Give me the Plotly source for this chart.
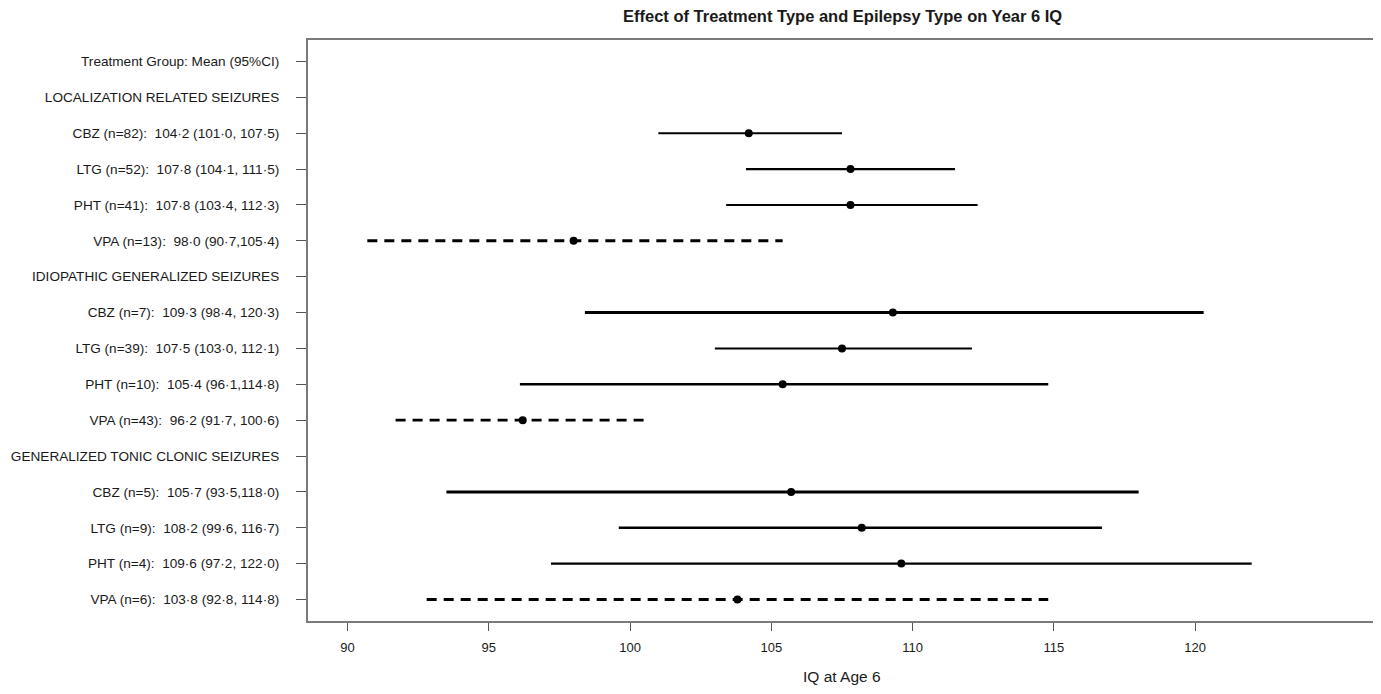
import plotly.graph_objects as go

# ---------------- data ----------------
row_labels = [
    "Treatment Group: Mean (95%CI)",
    "LOCALIZATION RELATED SEIZURES",
    "CBZ (n=82):\u00a0 104·2 (101·0, 107·5)",
    "LTG (n=52):\u00a0 107·8 (104·1, 111·5)",
    "PHT (n=41):\u00a0 107·8 (103·4, 112·3)",
    "VPA (n=13):\u00a0 98·0 (90·7,105·4)",
    "IDIOPATHIC GENERALIZED SEIZURES",
    "CBZ (n=7):\u00a0 109·3 (98·4, 120·3)",
    "LTG (n=39):\u00a0 107·5 (103·0, 112·1)",
    "PHT (n=10):\u00a0 105·4 (96·1,114·8)",
    "VPA (n=43):\u00a0 96·2 (91·7, 100·6)",
    "GENERALIZED TONIC CLONIC SEIZURES",
    "CBZ (n=5):\u00a0 105·7 (93·5,118·0)",
    "LTG (n=9):\u00a0 108·2 (99·6, 116·7)",
    "PHT (n=4):\u00a0 109·6 (97·2, 122·0)",
    "VPA (n=6):\u00a0 103·8 (92·8, 114·8)",
]
# None for header rows
means = [None, None, 104.2, 107.8, 107.8, 98.0, None, 109.3, 107.5, 105.4, 96.2,
         None, 105.7, 108.2, 109.6, 103.8]
lower = [None, None, 101.0, 104.1, 103.4, 90.7, None, 98.4, 103.0, 96.1, 91.7,
         None, 93.5, 99.6, 97.2, 92.8]
upper = [None, None, 107.5, 111.5, 112.3, 105.4, None, 120.3, 112.1, 114.8, 100.6,
         None, 118.0, 116.7, 122.0, 114.8]
treatment = [None, None, "CBZ", "LTG", "PHT", "VPA", None, "CBZ", "LTG", "PHT", "VPA",
             None, "CBZ", "LTG", "PHT", "VPA"]
x_ticks = [90, 95, 100, 105, 110, 115, 120]

# ---------------- styles ----------------
line_widths = [0, 0, 2, 2.4, 2, 3, 0, 3, 2, 2.6, 2.6, 0, 3, 2.6, 2.4, 3]

n = len(row_labels)
y_pos = [n - i for i in range(n)]

fig = go.Figure()
for i in range(n):
    if means[i] is None:
        continue
    dashed = treatment[i] == "VPA"
    fig.add_trace(go.Scatter(
        x=[lower[i], upper[i]], y=[y_pos[i], y_pos[i]],
        mode="lines",
        line=dict(color="black", width=line_widths[i],
                  dash="10px,7px" if dashed else "solid"),
        hoverinfo="skip", showlegend=False))
    fig.add_trace(go.Scatter(
        x=[means[i]], y=[y_pos[i]], mode="markers",
        marker=dict(color="black", size=8),
        showlegend=False))

font_family = "Liberation Sans, Arial, sans-serif"

fig.update_layout(
    width=1373, height=678,
    margin=dict(l=300, r=5, t=32, b=65),
    plot_bgcolor="white", paper_bgcolor="white",
    font=dict(family=font_family, size=13, color="#1a1a1a"),
    showlegend=False,
)
fig.update_xaxes(
    range=[88.6, 126.4], tickvals=x_ticks, ticktext=[str(t) for t in x_ticks],
    showgrid=False, zeroline=False, automargin=False,
    showline=True, mirror=True, linecolor="#7a7a7a", linewidth=2,
    ticks="outside", ticklen=8, tickcolor="#555", tickwidth=1,
    ticklabelstandoff=5,
    tickfont=dict(size=13, family=font_family, color="#1a1a1a"),
)
fig.update_yaxes(
    range=[0.4, n + 0.6], tickvals=y_pos, ticktext=row_labels,
    showgrid=False, zeroline=False, automargin=False,
    showline=True, mirror=True, linecolor="#7a7a7a", linewidth=2,
    ticks="outside", ticklen=10, tickcolor="#555", tickwidth=1,
    ticklabelstandoff=14,
    tickfont=dict(size=13.6, family=font_family, color="#1a1a1a"),
)

fig.add_annotation(
    text="<b>Effect of Treatment Type and Epilepsy Type on Year 6 IQ</b>",
    xref="paper", yref="paper", x=0.5, y=1.041, xanchor="center", yanchor="middle",
    showarrow=False, font=dict(size=16.5, family=font_family, color="#1a1a1a"))
fig.add_annotation(
    text="IQ at Age 6",
    xref="paper", yref="paper", x=0.5, y=-0.095, xanchor="center", yanchor="middle",
    showarrow=False, font=dict(size=15.5, family=font_family, color="#1a1a1a"))

fig.write_html("out.html")
